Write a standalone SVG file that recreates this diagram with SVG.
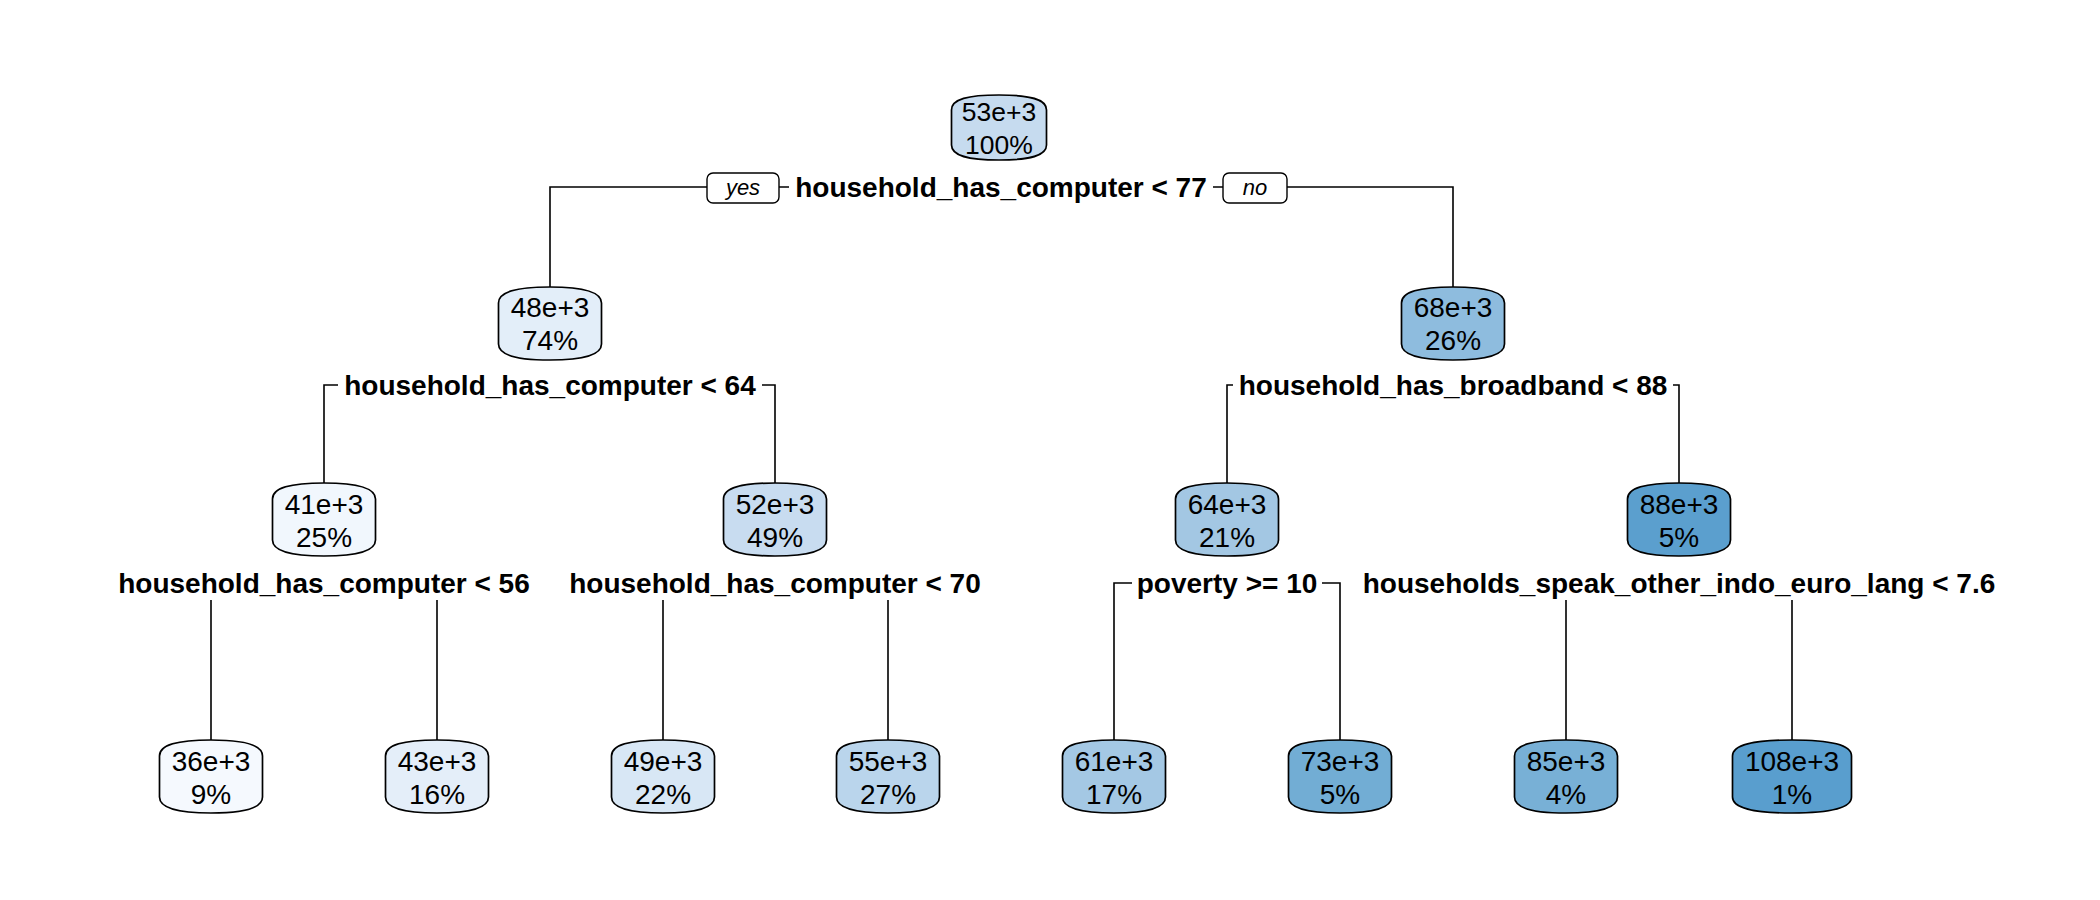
<svg xmlns="http://www.w3.org/2000/svg" xmlns:xlink="http://www.w3.org/1999/xlink" width="2100" height="900" viewBox="0 0 2100 900">
<style>
.conn{fill:none;stroke:#000;stroke-width:1.6}
.box{stroke:#000;stroke-width:1.7}
.nt{font-family:"Liberation Sans",Arial,sans-serif;font-size:28px;fill:#000;text-anchor:middle}
.rt{font-family:"Liberation Sans",Arial,sans-serif;font-size:26.5px;fill:#000;text-anchor:middle}
.st{font-family:"Liberation Sans",Arial,sans-serif;font-size:28px;font-weight:bold;fill:#000;text-anchor:middle}
.yn{font-family:"Liberation Sans",Arial,sans-serif;font-size:22px;font-style:italic;fill:#000;text-anchor:middle}
.ynb{fill:#fff;stroke:#000;stroke-width:1.4}
.bg{fill:#fff;stroke:none}
</style>
<defs>
<path id="shp" d="M-51.5,16 C-51.5,5 -34,0 0,0 C34,0 51.5,5 51.5,16 L51.5,57 C51.5,68 34,73 0,73 C-34,73 -51.5,68 -51.5,57 Z"/>
<path id="shpRoot" d="M-47.5,15 C-47.5,4 -31,0 0,0 C31,0 47.5,4 47.5,15 L47.5,50 C47.5,61 31,65 0,65 C-31,65 -47.5,61 -47.5,50 Z"/>
<path id="shpWide" d="M-59.5,16 C-59.5,5 -39,0 0,0 C39,0 59.5,5 59.5,16 L59.5,57 C59.5,68 39,73 0,73 C-39,73 -59.5,68 -59.5,57 Z"/>
</defs>
<rect width="2100" height="900" fill="#fff"/>
<g id="connectors">
<path class="conn" d="M550,287 V187 H1453 V287"/>
<path class="conn" d="M324,483 V385 H775 V483"/>
<path class="conn" d="M1227,483 V385 H1679 V483"/>
<path class="conn" d="M211,740 V583 H437 V740"/>
<path class="conn" d="M663,740 V583 H888 V740"/>
<path class="conn" d="M1114,740 V583 H1340 V740"/>
<path class="conn" d="M1566,740 V583 H1792 V740"/>
<rect class="ynb" x="707" y="173" width="72" height="30" rx="6"/>
<text class="yn" x="743" y="195">yes</text>
<rect class="ynb" x="1223" y="173" width="64" height="30" rx="6"/>
<text class="yn" x="1255" y="195">no</text>
</g>
<g id="n1">
<rect class="bg" x="789" y="170" width="424" height="34"/>
<text class="st" x="1001" y="196.5">household_has_computer &lt; 77</text>
<g transform="translate(999,95)"><use xlink:href="#shpRoot" class="box" fill="#C6DBEF"/>
<text class="rt" y="26">53e+3</text><text class="rt" y="59">100%</text></g>
</g>
<g id="n2">
<rect class="bg" x="338" y="368" width="424" height="34"/>
<text class="st" x="550" y="394.5">household_has_computer &lt; 64</text>
<g transform="translate(550,287)"><use xlink:href="#shp" class="box" fill="#E3EEF9"/>
<text class="nt" y="30">48e+3</text><text class="nt" y="63">74%</text></g>
</g>
<g id="n3">
<rect class="bg" x="1233" y="368" width="440" height="34"/>
<text class="st" x="1453" y="394.5">household_has_broadband &lt; 88</text>
<g transform="translate(1453,287)"><use xlink:href="#shp" class="box" fill="#8EBCDE"/>
<text class="nt" y="30">68e+3</text><text class="nt" y="63">26%</text></g>
</g>
<g id="n4">
<rect class="bg" x="112" y="566" width="424" height="34"/>
<text class="st" x="324" y="592.5">household_has_computer &lt; 56</text>
<g transform="translate(324,483)"><use xlink:href="#shp" class="box" fill="#F1F7FD"/>
<text class="nt" y="31">41e+3</text><text class="nt" y="64">25%</text></g>
</g>
<g id="n5">
<rect class="bg" x="563" y="566" width="424" height="34"/>
<text class="st" x="775" y="592.5">household_has_computer &lt; 70</text>
<g transform="translate(775,483)"><use xlink:href="#shp" class="box" fill="#C8DCF0"/>
<text class="nt" y="31">52e+3</text><text class="nt" y="64">49%</text></g>
</g>
<g id="n6">
<rect class="bg" x="1132" y="566" width="190" height="34"/>
<text class="st" x="1227" y="592.5">poverty &gt;= 10</text>
<g transform="translate(1227,483)"><use xlink:href="#shp" class="box" fill="#A3C7E3"/>
<text class="nt" y="31">64e+3</text><text class="nt" y="64">21%</text></g>
</g>
<g id="n7">
<rect class="bg" x="1357" y="566" width="644" height="34"/>
<text class="st" x="1679" y="592.5">households_speak_other_indo_euro_lang &lt; 7.6</text>
<g transform="translate(1679,483)"><use xlink:href="#shp" class="box" fill="#5B9FCE"/>
<text class="nt" y="31">88e+3</text><text class="nt" y="64">5%</text></g>
</g>
<g id="leaf1" transform="translate(211,740)"><use xlink:href="#shp" class="box" fill="#F5F9FE"/>
<text class="nt" y="31">36e+3</text><text class="nt" y="64">9%</text></g>
<g id="leaf2" transform="translate(437,740)"><use xlink:href="#shp" class="box" fill="#E4EEF9"/>
<text class="nt" y="31">43e+3</text><text class="nt" y="64">16%</text></g>
<g id="leaf3" transform="translate(663,740)"><use xlink:href="#shp" class="box" fill="#D8E7F5"/>
<text class="nt" y="31">49e+3</text><text class="nt" y="64">22%</text></g>
<g id="leaf4" transform="translate(888,740)"><use xlink:href="#shp" class="box" fill="#BAD5EC"/>
<text class="nt" y="31">55e+3</text><text class="nt" y="64">27%</text></g>
<g id="leaf5" transform="translate(1114,740)"><use xlink:href="#shp" class="box" fill="#A4C8E4"/>
<text class="nt" y="31">61e+3</text><text class="nt" y="64">17%</text></g>
<g id="leaf6" transform="translate(1340,740)"><use xlink:href="#shp" class="box" fill="#72ADD4"/>
<text class="nt" y="31">73e+3</text><text class="nt" y="64">5%</text></g>
<g id="leaf7" transform="translate(1566,740)"><use xlink:href="#shp" class="box" fill="#78B0D6"/>
<text class="nt" y="31">85e+3</text><text class="nt" y="64">4%</text></g>
<g id="leaf8" transform="translate(1792,740)"><use xlink:href="#shpWide" class="box" fill="#599ECE"/>
<text class="nt" y="31">108e+3</text><text class="nt" y="64">1%</text></g>
</svg>
